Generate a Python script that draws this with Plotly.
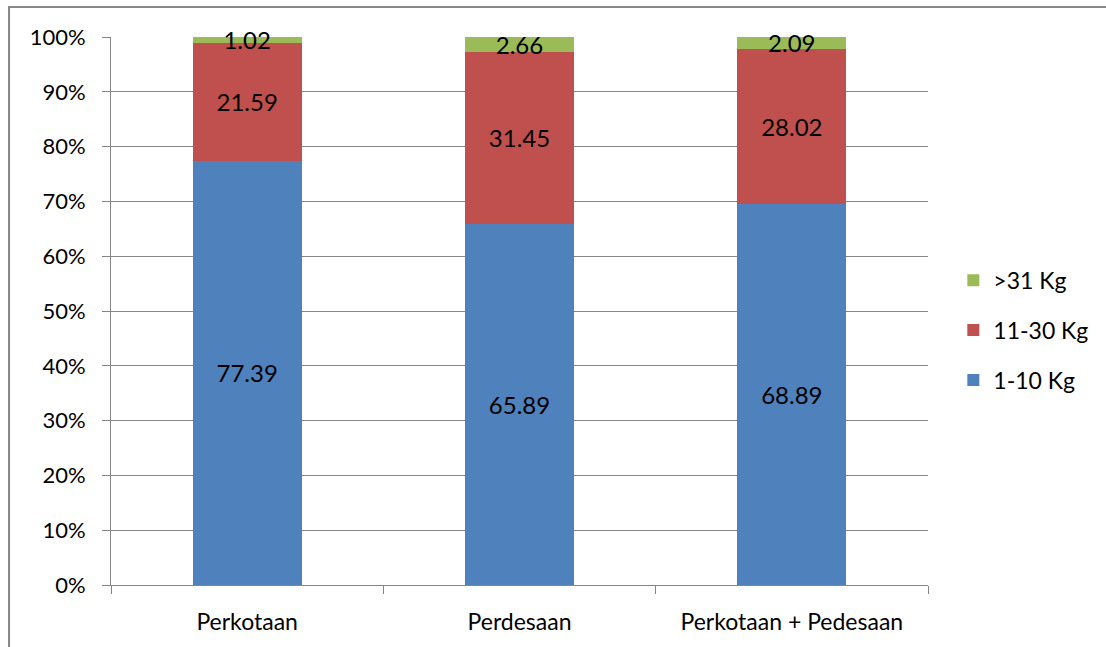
import plotly.graph_objects as go

categories = ["Perkotaan", "Perdesaan", "Perkotaan + Pedesaan"]
series_names = ["1-10 Kg", "11-30 Kg", ">31 Kg"]
v_1_10 = [77.39, 65.89, 68.89]
v_11_30 = [21.59, 31.45, 28.02]
v_31 = [1.02, 2.66, 2.09]
colors = ["#4F81BD", "#C0504D", "#9BBB59"]
legend_ranks = [3, 2, 1]
tick_vals = [0, 10, 20, 30, 40, 50, 60, 70, 80, 90, 100]
tick_text = [f"{v}%" for v in tick_vals]

FONT = "Lato, 'Open Sans', sans-serif"

fig = go.Figure()
for i, (name, vals) in enumerate(zip(series_names, [v_1_10, v_11_30, v_31])):
    fig.add_trace(go.Bar(
        x=categories, y=vals, name=name,
        marker=dict(color=colors[i], line=dict(width=0)),
        text=[f"{v:.2f}" for v in vals],
        textposition="inside", insidetextanchor="middle",
        constraintext="none", cliponaxis=False,
        textfont=dict(family=FONT, size=24, color="black"),
        legendgroup=name, legendrank=legend_ranks[i],
    ))

fig.update_layout(
    barmode="stack", barnorm="percent", bargap=0.6,
    width=1106, height=647,
    margin=dict(l=111, r=178, t=37, b=62),
    plot_bgcolor="white", paper_bgcolor="white",
    font=dict(family=FONT, size=21, color="black"),
    legend=dict(traceorder="grouped", tracegroupgap=17,
                x=1.031, y=0.465, xanchor="left", yanchor="middle",
                font=dict(family=FONT, size=23, color="black"),
                itemwidth=30),
    showlegend=True,
    xaxis=dict(showline=True, linecolor="#868686", linewidth=1,
               ticks="outside", ticklen=8, tickcolor="#868686",
               tickson="boundaries", showgrid=False, ticklabelstandoff=16,
               tickfont=dict(family=FONT, size=23, color="black")),
    yaxis=dict(range=[0, 100], tickvals=tick_vals, ticktext=tick_text,
               showline=True, linecolor="#868686", linewidth=1,
               ticks="outside", ticklen=8, tickcolor="#868686",
               showgrid=True, gridcolor="#868686", gridwidth=1,
               zeroline=False, ticklabelstandoff=12,
               tickfont=dict(family=FONT, size=22, color="black")),
    shapes=[dict(type="rect", xref="paper", yref="paper",
                 x0=-0.1248, x1=1.4, y0=-0.3, y1=1.0547,
                 line=dict(color="#878787", width=2), layer="below")],
)

fig.write_html("out.html")
